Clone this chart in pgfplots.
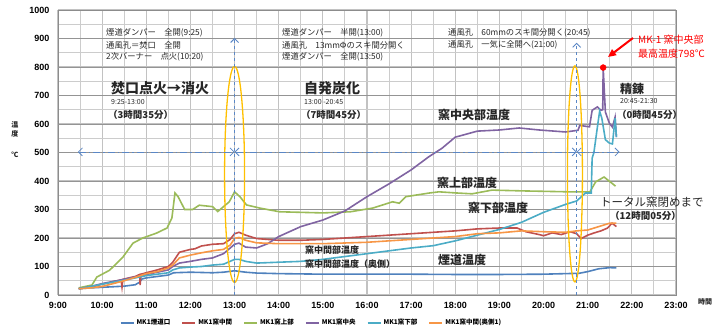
\documentclass[border=0pt]{standalone}
\usepackage{pgfplots}
\pgfplotsset{compat=1.18}
\usepackage{fontspec}
\setmainfont{Noto Sans CJK JP}
\newfontfamily\arial{Liberation Sans}
\usetikzlibrary{arrows.meta}
\definecolor{cBlue}{HTML}{4F81BD}
\definecolor{cRed}{HTML}{C0504D}
\definecolor{cGreen}{HTML}{9BBB59}
\definecolor{cPurple}{HTML}{8064A2}
\definecolor{cCyan}{HTML}{4BACC6}
\definecolor{cOrange}{HTML}{F79646}
\definecolor{cYel}{HTML}{FFC000}
\definecolor{cArr}{HTML}{5B87C5}
\begin{document}
\begin{tikzpicture}
\begin{axis}[
  at={(0,0)}, anchor=south west,
  scale only axis, width=618pt, height=285pt,
  xmin=9, xmax=23, ymin=0, ymax=1000,
  xtick={9,...,23},
  xticklabels={9:00,10:00,11:00,12:00,13:00,14:00,15:00,16:00,17:00,18:00,19:00,20:00,21:00,22:00,23:00},
  ytick={0,100,...,1000},
  minor x tick num=1, minor y tick num=1,
  xmajorgrids, xminorgrids, ymajorgrids, yminorgrids,
  major grid style={draw=black!24, line width=1.2pt},
  minor grid style={draw=black!20, line width=1.1pt},
  axis line style={draw=black!45, line width=0.8pt},
  major tick length=0pt, minor tick length=0pt,
  tick label style={font=\arial\bfseries\fontsize{9}{10}\selectfont},
  /pgf/number format/assume math mode=true,
  /pgf/number format/1000 sep={},
  yticklabel style={xshift=-5pt},
  xticklabel style={yshift=-4pt},
  legend columns=6,
  legend style={at={(0.41,-0.098)}, anchor=center, draw=none, fill=none,
    font=\bfseries\fontsize{6.5}{7}\selectfont, /tikz/every even column/.append style={column sep=9pt}},
  legend image code/.code={\draw[#1, line width=2pt] (0pt,0pt) -- (13pt,0pt);},
]
% darker horizontal major lines
\pgfplotsinvokeforeach{100,200,...,900}{
  \draw[black!42, line width=0.9pt] (axis cs:9,#1) -- (axis cs:23,#1);
}
% MK1 煙道口
\addplot[cBlue, line width=1.6pt] coordinates {
(9.47,22)(9.75,25)(10.0,27)(10.5,31)(10.75,36)(10.85,45)(10.9,56)(11.0,60)(11.25,65)(11.5,70)(11.62,78)(12.0,80)(12.5,78)(12.75,80)(13.0,85)(13.25,80)(13.5,77)(14.0,75)(15,73)(16,73)(17,73)(18,72)(19,72)(20,73)(20.5,75)(20.8,76)(21.0,82)(21.25,92)(21.5,96)(21.65,95)};
\addlegendentry{MK1煙道口}
% MK1 窯中間
\addplot[cRed, line width=1.6pt] coordinates {
(9.47,22)(9.75,28)(10.0,38)(10.25,47)(10.43,53)(10.45,28)(10.47,55)(10.75,65)(10.85,72)(10.86,35)(10.88,73)(11.0,78)(11.25,88)(11.5,100)(11.6,115)(11.75,150)(12.0,160)(12.1,162)(12.25,172)(12.5,178)(12.75,180)(12.9,195)(13.0,215)(13.1,220)(13.25,210)(13.5,198)(14.0,192)(14.5,192)(15.0,195)(15.5,200)(16.0,205)(16.5,210)(17.0,215)(17.5,220)(18.0,225)(18.5,232)(19.0,235)(19.4,235)(19.6,222)(19.9,212)(20.0,208)(20.2,218)(20.4,212)(20.6,222)(20.75,215)(20.85,198)(21.0,210)(21.15,218)(21.3,225)(21.45,235)(21.55,252)(21.65,240)};
\addlegendentry{MK1窯中間}
% MK1 窯上部
\addplot[cGreen, line width=1.6pt] coordinates {
(9.47,25)(9.77,35)(9.88,63)(10.17,87)(10.47,133)(10.7,182)(10.92,200)(11.23,217)(11.47,235)(11.58,270)(11.65,358)(11.72,345)(11.87,300)(12.05,300)(12.2,315)(12.5,310)(12.62,293)(12.88,327)(13.0,362)(13.12,345)(13.27,316)(13.57,305)(14.02,292)(15.0,288)(15.62,292)(16.13,305)(16.58,327)(16.73,322)(16.88,345)(17.42,358)(17.63,362)(18.02,358)(18.38,355)(18.83,368)(19.6,365)(20.58,362)(21.05,362)(21.18,397)(21.37,414)(21.63,382)};
\addlegendentry{MK1窯上部}
% MK1 窯中央
\addplot[cPurple, line width=1.6pt] coordinates {
(9.47,22)(9.75,30)(10.0,40)(10.5,55)(11.0,72)(11.5,88)(11.6,100)(11.75,112)(12.0,118)(12.25,125)(12.5,130)(12.75,145)(13.0,178)(13.1,182)(13.25,168)(13.5,165)(13.75,180)(14.0,205)(14.5,240)(15.0,263)(15.5,295)(16.0,345)(16.5,390)(17.0,439)(17.4,485)(17.7,515)(18.0,554)(18.1,558)(18.5,575)(19.0,579)(19.45,586)(19.9,579)(20.5,572)(20.78,578)(20.82,595)(21.04,590)(21.1,648)(21.22,660)(21.3,648)(21.34,650)(21.35,798)(21.4,642)(21.49,603)(21.56,589)(21.62,624)(21.65,554)};
\addlegendentry{MK1窯中央}
% MK1 窯下部
\addplot[cCyan, line width=1.6pt] coordinates {
(9.47,22)(9.75,30)(10.0,38)(10.5,52)(11.0,68)(11.5,78)(11.6,88)(11.75,95)(12.0,98)(12.25,100)(12.5,105)(12.75,108)(13.0,125)(13.1,125)(13.25,118)(13.5,112)(14.0,115)(14.5,118)(15.0,125)(15.5,135)(16.0,145)(16.5,155)(17.0,165)(17.5,173)(18.0,190)(18.5,210)(19.0,230)(19.5,255)(20.0,290)(20.5,318)(20.75,330)(20.95,358)(21.08,358)(21.1,480)(21.14,500)(21.22,590)(21.27,645)(21.32,620)(21.4,545)(21.49,533)(21.56,530)(21.62,620)(21.65,554)};
\addlegendentry{MK1窯下部}
% MK1 窯中間(奥側1)
\addplot[cOrange, line width=1.6pt] coordinates {
(9.47,22)(9.75,25)(10.0,30)(10.25,40)(10.5,50)(10.75,62)(11.0,75)(11.25,82)(11.5,95)(11.6,105)(11.75,130)(12.0,140)(12.25,148)(12.5,155)(12.75,160)(12.9,175)(13.0,198)(13.1,202)(13.25,192)(13.5,183)(14.0,180)(15.0,180)(16.0,185)(17.0,195)(18.0,205)(18.5,215)(19.0,218)(19.5,225)(20.0,222)(20.5,220)(20.75,225)(21.0,228)(21.25,240)(21.5,252)(21.65,252)};
\addlegendentry{MK1窯中間(奥側1)}
% max point
\addplot[only marks, mark=*, mark size=3pt, red, forget plot] coordinates {(21.35,798)};
% ellipses
\draw[cYel, line width=1.3pt] (axis cs:13,423) ellipse [x radius=10pt, y radius=108pt];
\draw[cYel, line width=1.3pt] (axis cs:20.71,425) ellipse [x radius=7.5pt, y radius=108pt];
% vertical arrows
\draw[cArr, dashed, line width=0.9pt, -{Straight Barb[length=4pt]}] (axis cs:13,0) -- (axis cs:13,902);
\draw[cArr, dashed, line width=0.9pt, -{Straight Barb[length=4pt]}] (axis cs:20.75,0) -- (axis cs:20.75,885);
% horizontal arrows
\draw[cArr, line width=0.8pt, dash pattern=on 7pt off 3pt on 1.5pt off 3pt, {Straight Barb[length=4pt]}-{Straight Barb[length=4pt]}] (axis cs:9.45,502) -- (axis cs:13,502);
\draw[cArr, line width=0.8pt, dash pattern=on 7pt off 3pt on 1.5pt off 3pt, {Straight Barb[length=4pt]}-{Straight Barb[length=4pt]}] (axis cs:13,502) -- (axis cs:20.75,502);
\draw[cArr, line width=0.8pt, dash pattern=on 7pt off 3pt on 1.5pt off 3pt, {Straight Barb[length=4pt]}-{Straight Barb[length=4pt]}] (axis cs:20.75,502) -- (axis cs:21.72,502);
\end{axis}
% annotations (1pt = 1px; origin at axis lower left)
\begin{scope}[every node/.style={anchor=west, inner sep=0pt, text=black!85}]
\def\sm{\fontsize{8.3}{9}\selectfont}
\node[font=\sm] at (48pt,262pt) {煙道ダンパー　全開(9:25)};
\node[font=\sm] at (48pt,250pt) {通風孔＝焚口　全開};
\node[font=\sm] at (48pt,238pt) {2次バーナー　点火(10:20)};
\node[font=\bfseries\fontsize{14}{15}\selectfont] at (53pt,207pt) {焚口点火→消火};
\node[font=\fontsize{7}{8}\selectfont] at (53pt,193pt) {9:25-13:00};
\node[font=\bfseries\fontsize{9.5}{10}\selectfont] at (50pt,180pt) {（3時間35分）};
\node[font=\sm] at (224pt,262pt) {煙道ダンパー　半開(13:00)};
\node[font=\sm] at (224pt,250pt) {通風孔　13mmΦのスキ間分開く};
\node[font=\sm] at (224pt,238pt) {煙道ダンパー　全開(13:50)};
\node[font=\bfseries\fontsize{14}{15}\selectfont] at (246pt,207pt) {自発炭化};
\node[font=\fontsize{7}{8}\selectfont] at (246pt,193pt) {13:00 -20:45};
\node[font=\bfseries\fontsize{9.5}{10}\selectfont] at (243pt,180pt) {（7時間45分）};
\node[font=\sm] at (390pt,262pt) {通風孔　60mmのスキ間分開く(20:45)};
\node[font=\sm] at (390pt,250pt) {通風孔　一気に全開へ(21:00)};
\node[font=\bfseries\fontsize{12}{13}\selectfont] at (562pt,206pt) {精錬};
\node[font=\fontsize{7}{8}\selectfont] at (562pt,194pt) {20:45-21:30};
\node[font=\bfseries\fontsize{9.5}{10}\selectfont] at (559pt,180pt) {（0時間45分）};
\node[font=\bfseries\fontsize{12}{13}\selectfont] at (380pt,180pt) {窯中央部温度};
\node[font=\bfseries\fontsize{12}{13}\selectfont] at (379pt,112pt) {窯上部温度};
\node[font=\bfseries\fontsize{12}{13}\selectfont] at (410pt,87pt) {窯下部温度};
\node[font=\bfseries\fontsize{9}{10}\selectfont] at (247pt,45pt) {窯中間部温度};
\node[font=\bfseries\fontsize{9}{10}\selectfont] at (247pt,31pt) {窯中間部温度（奥側）};
\node[font=\bfseries\fontsize{12}{13}\selectfont] at (380pt,35pt) {煙道温度};
\node[font=\fontsize{11.5}{12}\selectfont] at (542pt,93pt) {トータル窯閉めまで};
\node[font=\bfseries\fontsize{9.5}{10}\selectfont] at (552pt,79pt) {（12時間05分）};
\node[font=\fontsize{10}{11}\selectfont, text=red] at (580pt,255pt) {MK-1 窯中央部};
\node[font=\fontsize{10}{11}\selectfont, text=red] at (580pt,241pt) {最高温度798℃};
\node[font=\bfseries\fontsize{7}{8}\selectfont, anchor=center] at (-43pt,170pt) {温};
\node[font=\bfseries\fontsize{7}{8}\selectfont, anchor=center] at (-43pt,161pt) {度};
\node[font=\bfseries\fontsize{7}{8}\selectfont, anchor=center] at (-43pt,140pt) {℃};
\node[font=\bfseries\fontsize{7}{8}\selectfont] at (640pt,-7pt) {時間};
\end{scope}
\draw[red, line width=2pt, -{Triangle[length=8pt, width=7pt]}] (575pt,257pt) -- (550pt,238pt);
\pgfresetboundingbox
\path (-58pt,-41pt) rectangle (664pt,295pt);
\end{tikzpicture}
\end{document}
